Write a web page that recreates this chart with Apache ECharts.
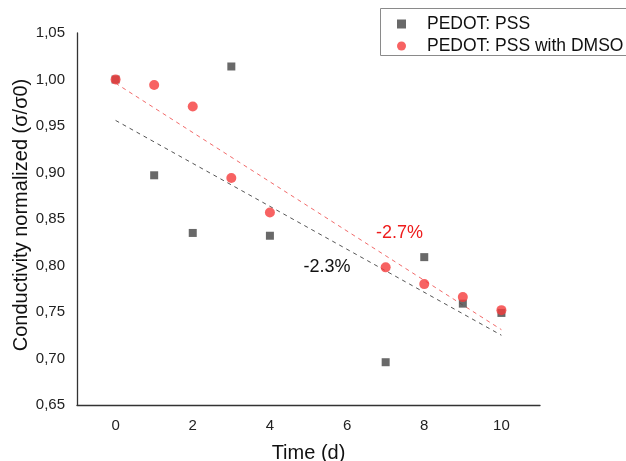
<!DOCTYPE html>
<html>
<head>
<meta charset="utf-8">
<script src="https://cdn.jsdelivr.net/npm/echarts@6/dist/echarts.min.js"></script>
<style>
html,body{margin:0;padding:0;background:#fff;}
#c{width:626px;height:461px;}
</style>
</head>
<body>
<div id="c"></div>
<script>
const days = [0, 1, 2, 3, 4, 7, 8, 9, 10];
const pedotPss = [1.000, 0.897, 0.835, 1.014, 0.832, 0.696, 0.809, 0.759, 0.749];
const pedotPssDmso = [1.000, 0.994, 0.971, 0.894, 0.857, 0.798, 0.780, 0.766, 0.752];
const trendDays = [0, 10];
const trendPss = [0.956, 0.725];
const trendDmso = [0.996, 0.731];
const xTicks = [0, 2, 4, 6, 8, 10];
const seriesNames = ['PEDOT: PSS', 'PEDOT: PSS with DMSO'];
const slopeLabels = ['-2.3%', '-2.7%'];
const slopeLabelAt = [[5.48, 0.798], [7.36, 0.835]];

const FONT = 'Liberation Sans, Arial, sans-serif';
const pair = (xs, ys) => xs.map((x, i) => [x, ys[i]]);

const chart = echarts.init(document.getElementById('c'));
chart.setOption({
  animation: false,
  backgroundColor: '#fff',
  textStyle: { fontFamily: FONT },
  grid: { left: 77, right: 86, top: 33, bottom: 56, containLabel: false, outerBoundsMode: 'none' },
  graphic: [{
    type: 'rect', z: 0, silent: true,
    shape: { x: 380.5, y: 8.5, width: 270, height: 47 },
    style: { fill: 'none', stroke: '#8a8a8a', lineWidth: 1 }
  }],
  legend: {
    orient: 'vertical',
    left: 380, top: 8,
    padding: [7, 10, 4, 17],
    itemGap: 4,
    itemWidth: 9, itemHeight: 9,
    borderWidth: 0,
    textStyle: { fontFamily: FONT, fontSize: 17.5, color: '#111', padding: [0, 0, 0, 16] },
    data: [
      { name: seriesNames[0], icon: 'rect' },
      { name: seriesNames[1], icon: 'circle' }
    ]
  },
  xAxis: {
    type: 'value', min: -1, max: 11, interval: 1,
    name: 'Time (d)', nameLocation: 'middle', nameGap: 38,
    nameTextStyle: { fontFamily: FONT, fontSize: 20, color: '#111' },
    axisLine: { show: true, onZero: false, lineStyle: { color: '#333', width: 1.3 } },
    axisTick: { show: false },
    splitLine: { show: false },
    axisLabel: {
      customValues: xTicks,
      fontFamily: FONT, fontSize: 15, color: '#222', margin: 13,
      formatter: v => (xTicks.includes(v) ? String(v) : '')
    }
  },
  yAxis: {
    type: 'value', min: 0.65, max: 1.05, interval: 0.05,
    name: 'Conductivity normalized (σ/σ0)', nameLocation: 'middle', nameGap: 46,
    nameMoveOverlap: false,
    nameTextStyle: { fontFamily: FONT, fontSize: 20, color: '#111', padding: [0, 0, 0, 8] },
    axisLine: { show: true, onZero: false, lineStyle: { color: '#333', width: 1.3 } },
    axisTick: { show: false },
    splitLine: { show: false },
    axisLabel: {
      fontFamily: FONT, fontSize: 15, color: '#222', margin: 12,
      formatter: v => v.toFixed(2).replace('.', ',')
    }
  },
  series: [
    {
      type: 'line', data: pair(trendDays, trendPss), symbol: 'none', z: 1,
      lineStyle: { color: '#555', width: 1, type: [4, 4] }, silent: true,
      markPoint: {
        symbol: 'circle', symbolSize: 0,
        label: { show: true, formatter: slopeLabels[0], fontFamily: FONT, fontSize: 18, color: '#111' },
        data: [{ coord: slopeLabelAt[0] }]
      }
    },
    {
      type: 'line', data: pair(trendDays, trendDmso), symbol: 'none', z: 1,
      lineStyle: { color: '#f26a6a', width: 1, type: [4, 4] }, silent: true,
      markPoint: {
        symbol: 'circle', symbolSize: 0,
        label: { show: true, formatter: slopeLabels[1], fontFamily: FONT, fontSize: 18, color: '#ee1c1c' },
        data: [{ coord: slopeLabelAt[1] }]
      }
    },
    {
      name: seriesNames[0], type: 'scatter', data: pair(days, pedotPss),
      symbol: 'rect', symbolSize: 8, z: 3,
      itemStyle: { color: '#444444' }
    },
    {
      name: seriesNames[1], type: 'scatter', data: pair(days, pedotPssDmso),
      symbol: 'circle', symbolSize: 10, z: 4,
      itemStyle: { color: '#f53b3b' }
    }
  ]
});
</script>
</body>
</html>
